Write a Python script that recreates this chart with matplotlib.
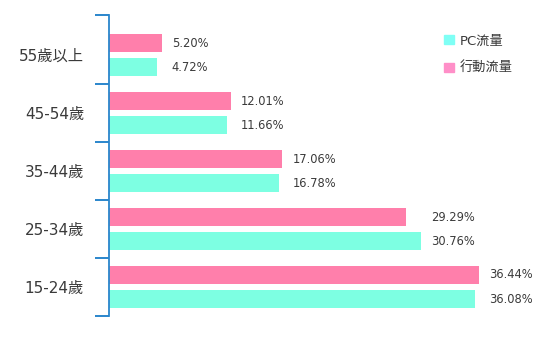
import matplotlib.pyplot as plt
import numpy as np
from matplotlib.patches import Patch

plt.rcParams['font.family'] = ['DejaVu Sans', 'Noto Sans CJK TC']

# bottom to top
age_groups = ['15-24歲', '25-34歲', '35-44歲', '45-54歲', '55歲以上']
pc_share = [36.08, 30.76, 16.78, 11.66, 4.72]
mobile_share = [36.44, 29.29, 17.06, 12.01, 5.20]

PC_COLOR = '#7dffe2'
MOBILE_COLOR = '#ff7fab'
AXIS_BLUE = '#2a86cc'
TEXT = '#3a3a3a'

fig = plt.figure(figsize=(5.59, 3.53), dpi=100)
ax = fig.add_axes([109 / 559, 37 / 353, 440 / 559, 301 / 353])

y = np.arange(len(age_groups))
h = 0.31
off = 0.207
ax.barh(y + off, mobile_share, height=h, color=MOBILE_COLOR, zorder=2)
ax.barh(y - off, pc_share, height=h, color=PC_COLOR, zorder=2)

for yi, m, p in zip(y, mobile_share, pc_share):
    xl = max(m, p) + 1.0
    ax.text(xl, yi + off, f'{m:.2f}%', va='center', ha='left', fontsize=8.3, color=TEXT)
    ax.text(xl, yi - off, f'{p:.2f}%', va='center', ha='left', fontsize=8.3, color=TEXT)

ax.set_xlim(0, 440 / 10.15)
ax.set_ylim(-0.5, 4.69)

for s in ['top', 'right', 'bottom']:
    ax.spines[s].set_visible(False)
ax.spines['left'].set_color(AXIS_BLUE)
ax.spines['left'].set_linewidth(1.3)
ax.set_xticks([])

ax.set_yticks(y)
ax.set_yticklabels(age_groups, fontsize=11, color=TEXT)
ax.tick_params(axis='y', which='major', length=0, pad=18)
ax.set_yticks([-0.5, 0.5, 1.5, 2.5, 3.5, 4.69], minor=True)
ax.tick_params(axis='y', which='minor', length=10, width=1.4, color=AXIS_BLUE)

handles = [Patch(color='#7ffff5', label='PC流量'),
           Patch(color='#ff8fc8', label='行動流量')]
ax.legend(handles=handles, loc='upper left', bbox_to_anchor=(0.735, 0.975),
          frameon=False, fontsize=9.5, handlelength=0.7, handleheight=0.7,
          handletextpad=0.5, labelspacing=1.1, labelcolor=TEXT)

fig.savefig('out.png', dpi=100)
